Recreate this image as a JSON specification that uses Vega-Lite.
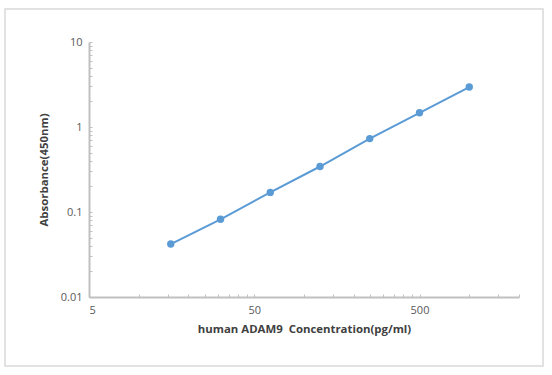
{
  "$schema": "https://vega.github.io/schema/vega-lite/v6.json",
  "autosize": {"type": "none"},
  "padding": {"left": 5, "top": 9, "right": 9, "bottom": 9},
  "width": 538,
  "height": 357,
  "background": "white",
  "config": {
    "view": {"stroke": "#d9d9d9", "strokeWidth": 1.5},
    "axis": {
      "labelFont": "Open Sans",
      "labelFontSize": 11,
      "labelColor": "#595959",
      "titleFont": "Open Sans",
      "titleFontSize": 11.4,
      "titleFontWeight": "bold",
      "titleColor": "#404040",
      "domainColor": "#c0c0c0",
      "domainWidth": 2,
      "tickColor": "#c0c0c0",
      "tickWidth": 1,
      "grid": false
    }
  },
  "data": {
    "values": [
      {"conc": 15.625, "od": 0.042},
      {"conc": 31.25, "od": 0.082},
      {"conc": 62.5, "od": 0.17},
      {"conc": 125, "od": 0.343},
      {"conc": 250, "od": 0.73},
      {"conc": 500, "od": 1.47},
      {"conc": 1000, "od": 2.95}
    ]
  },
  "encoding": {
    "x": {
      "field": "conc",
      "type": "quantitative",
      "scale": {"type": "log", "domain": [5, 2000], "range": [84, 514], "nice": false},
      "axis": {
        "title": "human ADAM9\u00a0 Concentration(pg/ml)",
        "offset": -69,
        "values": [5, 10, 15, 20, 25, 30, 35, 40, 45, 50, 100, 150, 200, 250, 300, 350, 400, 450, 500, 1000, 1500, 2000],
        "labelExpr": "datum.value == 5 ? '5' : datum.value == 50 ? '50' : datum.value == 500 ? '500' : ''",
        "tickSize": -3,
        "labelPadding": 10,
        "titlePadding": 8
      }
    },
    "y": {
      "field": "od",
      "type": "quantitative",
      "scale": {"type": "log", "domain": [0.01, 10], "range": [288, 33], "nice": false},
      "axis": {
        "title": "Absorbance(450nm)",
        "offset": -84,
        "values": [0.01, 0.02, 0.03, 0.04, 0.05, 0.06, 0.07, 0.08, 0.09, 0.1, 0.2, 0.3, 0.4, 0.5, 0.6, 0.7, 0.8, 0.9, 1, 2, 3, 4, 5, 6, 7, 8, 9, 10],
        "labelExpr": "datum.value == 0.01 ? '0.01' : datum.value == 0.1 ? '0.1' : datum.value == 1 ? '1' : datum.value == 10 ? '10' : ''",
        "tickSize": -3,
        "labelPadding": 10,
        "titlePadding": 11
      }
    }
  },
  "layer": [
    {"mark": {"type": "line", "color": "#5B9BD5", "strokeWidth": 2}},
    {"mark": {"type": "point", "filled": true, "color": "#5B9BD5", "size": 55, "opacity": 1}}
  ]
}
